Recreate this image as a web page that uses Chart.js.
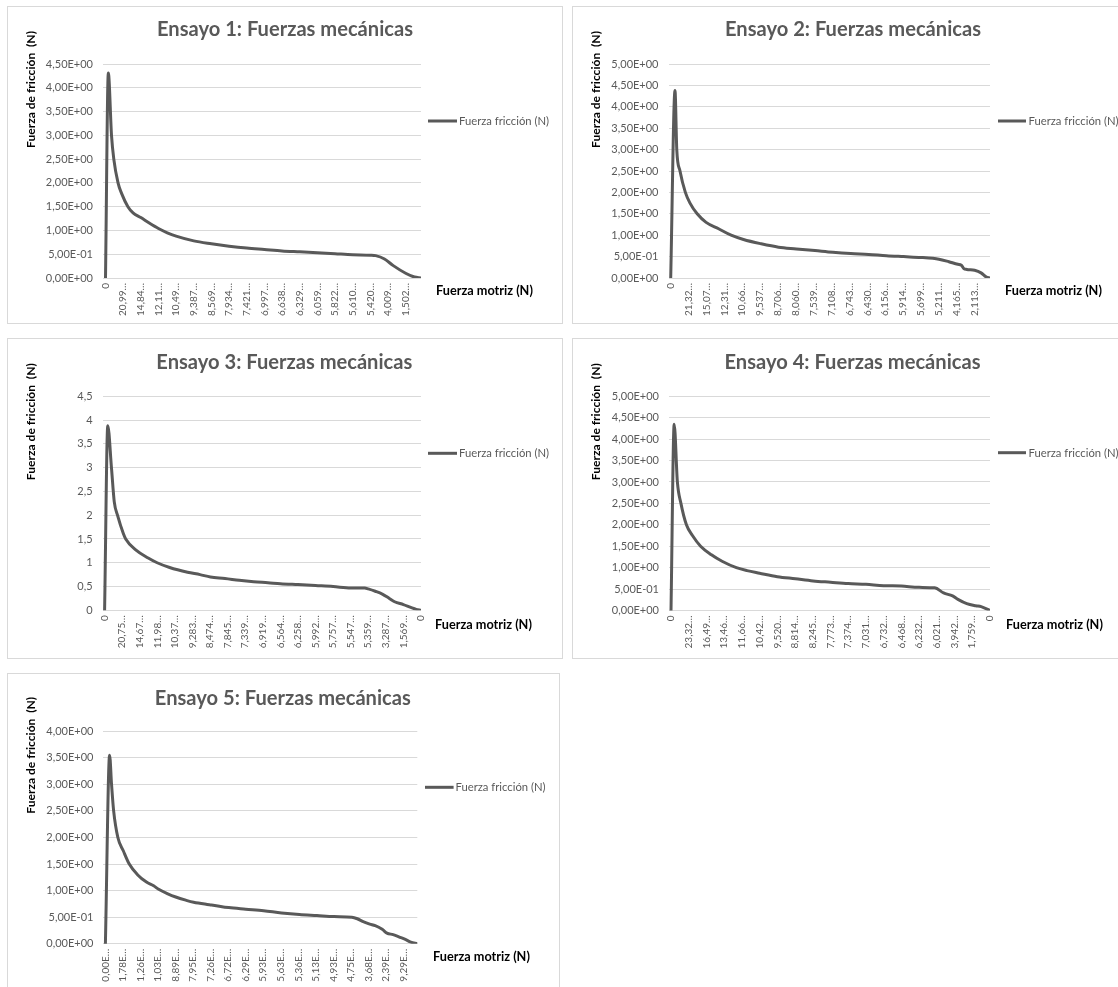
<!DOCTYPE html>
<html lang="es">
<head>
<meta charset="utf-8">
<title>Ensayos: Fuerzas mecánicas</title>
<script src="https://cdn.jsdelivr.net/npm/chart.js@4.4.1/dist/chart.umd.min.js"></script>
<style>
  html, body { margin: 0; padding: 0; background: #ffffff; overflow: hidden; }
  body { width: 1118px; height: 987px; position: relative; }
  .panel { position: absolute; box-sizing: border-box; border: 1px solid #d9d9d9; background: #ffffff; }
  .panel canvas { display: block; }
</style>
</head>
<body>
<div id="charts"></div>
<script>
// ---- Data: position along the category axis (xs) and friction force (ys) ----
const xs1 = [0, 0.16, 0.34, 0.47, 0.71, 0.91, 1.27, 1.56, 2.0, 2.5, 3.0, 3.5, 4.0, 5.0, 6.0, 7.0, 8.0, 9.0, 10.0, 11.0, 12.0, 13.0, 14.0, 15.0, 15.3, 15.8, 16.3, 17.0, 17.5, 17.87];
const ys1 = [0, 4.31, 3.0, 2.5, 2.0, 1.78, 1.5, 1.37, 1.27, 1.15, 1.04, 0.95, 0.88, 0.78, 0.72, 0.67, 0.63, 0.60, 0.57, 0.55, 0.53, 0.51, 0.49, 0.48, 0.47, 0.40, 0.26, 0.10, 0.02, 0];

const xs2 = [0, 0.24, 0.34, 0.52, 0.82, 1.08, 1.48, 1.98, 2.68, 3.38, 4.07, 5.05, 6.03, 7.03, 8.07, 9.07, 10.07, 11.07, 12.07, 13.02, 14.0, 14.66, 15.0, 15.56, 16.06, 16.26, 16.4, 16.56, 17.0, 17.36, 17.66, 17.86];
const ys2 = [0, 4.38, 3.0, 2.5, 2.0, 1.75, 1.5, 1.3, 1.15, 1.0, 0.9, 0.8, 0.72, 0.68, 0.64, 0.60, 0.57, 0.55, 0.52, 0.50, 0.48, 0.46, 0.44, 0.38, 0.32, 0.30, 0.22, 0.20, 0.18, 0.12, 0.02, 0];

const xs3 = [0, 0.18, 0.39, 0.55, 0.75, 1.06, 1.2, 1.77, 2.48, 2.99, 3.70, 4.72, 5.43, 6.02, 6.85, 7.66, 8.48, 9.29, 10.0, 11.0, 12.0, 13.0, 14.0, 14.8, 15.0, 15.4, 15.8, 16.2, 16.5, 17.0, 17.42, 17.73, 18];
const ys3 = [0, 3.88, 3.0, 2.28, 1.98, 1.62, 1.5, 1.27, 1.1, 1.0, 0.9, 0.8, 0.75, 0.7, 0.67, 0.63, 0.6, 0.58, 0.56, 0.54, 0.52, 0.50, 0.47, 0.47, 0.45, 0.40, 0.34, 0.25, 0.18, 0.12, 0.06, 0.02, 0];

const xs4 = [0, 0.18, 0.36, 0.56, 0.87, 1.21, 1.67, 2.28, 2.88, 3.69, 4.29, 5.0, 6.0, 7.02, 8.02, 9.0, 10.0, 11.0, 12.0, 13.0, 14.0, 14.88, 15.38, 15.89, 16.19, 16.69, 17.2, 17.5, 18];
const ys4 = [0, 4.35, 3.0, 2.5, 2.0, 1.75, 1.5, 1.3, 1.15, 1.0, 0.93, 0.87, 0.79, 0.74, 0.69, 0.66, 0.63, 0.61, 0.58, 0.57, 0.54, 0.53, 0.41, 0.34, 0.26, 0.16, 0.11, 0.09, 0];

const xs5 = [0, 0.24, 0.35, 0.47, 0.71, 1.02, 1.36, 1.83, 2.34, 2.75, 3.01, 3.56, 4.01, 4.58, 5.03, 5.8, 6.05, 7.03, 8.0, 9.02, 10.04, 11.06, 12.06, 13.03, 14.05, 14.36, 14.66, 15.07, 15.38, 15.78, 16.05, 16.4, 16.8, 17.1, 17.41, 17.78];
const ys5 = [0, 3.55, 3.0, 2.5, 2.0, 1.75, 1.5, 1.3, 1.16, 1.09, 1.03, 0.94, 0.88, 0.82, 0.78, 0.74, 0.73, 0.68, 0.65, 0.62, 0.58, 0.55, 0.53, 0.51, 0.50, 0.47, 0.42, 0.37, 0.34, 0.27, 0.20, 0.17, 0.12, 0.08, 0.03, 0];

// ---- Category tick labels (Fuerza motriz) ----
const xLabels1 = ['0', '20,99…', '14,84…', '12,11…', '10,49…', '9,387…', '8,569…', '7,934…', '7,421…', '6,997…', '6,638…', '6,329…', '6,059…', '5,822…', '5,610…', '5,420…', '4,009…', '1,502…'];
const xLabels2 = ['0', '21,32…', '15,07…', '12,31…', '10,66…', '9,537…', '8,706…', '8,060…', '7,539…', '7,108…', '6,743…', '6,430…', '6,156…', '5,914…', '5,699…', '5,211…', '4,165…', '2,113…'];
const xLabels3 = ['0', '20,75…', '14,67…', '11,98…', '10,37…', '9,283…', '8,474…', '7,845…', '7,339…', '6,919…', '6,564…', '6,258…', '5,992…', '5,757…', '5,547…', '5,359…', '3,287…', '1,569…', '0'];
const xLabels4 = ['0', '23,32…', '16,49…', '13,46…', '11,66…', '10,42…', '9,520…', '8,814…', '8,245…', '7,773…', '7,374…', '7,031…', '6,732…', '6,468…', '6,232…', '6,021…', '3,942…', '1,759…', '0'];
const xLabels5 = ['0,00E…', '1,78E…', '1,26E…', '1,03E…', '8,89E…', '7,95E…', '7,26E…', '6,72E…', '6,29E…', '5,93E…', '5,63E…', '5,36E…', '5,13E…', '4,93E…', '4,75E…', '3,68E…', '2,39E…', '9,29E…'];

// ---- Value-axis tick labels (Fuerza de fricción), from 0 upwards in steps of 0,5 ----
const yLabelsSci45 = ['0,00E+00', '5,00E-01', '1,00E+00', '1,50E+00', '2,00E+00', '2,50E+00', '3,00E+00', '3,50E+00', '4,00E+00', '4,50E+00'];
const yLabelsSci50 = ['0,00E+00', '5,00E-01', '1,00E+00', '1,50E+00', '2,00E+00', '2,50E+00', '3,00E+00', '3,50E+00', '4,00E+00', '4,50E+00', '5,00E+00'];
const yLabelsSci40 = ['0,00E+00', '5,00E-01', '1,00E+00', '1,50E+00', '2,00E+00', '2,50E+00', '3,00E+00', '3,50E+00', '4,00E+00'];
const yLabelsDec45 = ['0', '0,5', '1', '1,5', '2', '2,5', '3', '3,5', '4', '4,5'];

const titles = ['Ensayo 1: Fuerzas mecánicas', 'Ensayo 2: Fuerzas mecánicas', 'Ensayo 3: Fuerzas mecánicas', 'Ensayo 4: Fuerzas mecánicas', 'Ensayo 5: Fuerzas mecánicas'];
const seriesName = 'Fuerza fricción (N)';
const yAxisName = 'Fuerza de fricción  (N)';
const xAxisName = 'Fuerza motriz (N)';

// ---- Panel layout (page pixels) ----
const panels = [
  { xs: xs1, ys: ys1, xLabels: xLabels1, yLabels: yLabelsSci45, yMax: 4.5, xMax: 17.87, title: titles[0],
    box: { x: 7, y: 6, w: 556, h: 318 }, area: { left: 103, right: 421, top: 64, bottom: 278 }, inset: 2.5,
    titleX: 285, titleY: 36, yTitleX: 35, yTitleY: 89.5, legX1: 428, legX2: 457, legY: 121, legTextX: 459, xTitleX: 436, xTitleY: 295 },
  { xs: xs2, ys: ys2, xLabels: xLabels2, yLabels: yLabelsSci50, yMax: 5, xMax: 17.86, title: titles[1],
    box: { x: 572, y: 6, w: 556, h: 318 }, area: { left: 668.5, right: 990, top: 64, bottom: 278 }, inset: 2.2,
    titleX: 853, titleY: 36, yTitleX: 600, yTitleY: 89.5, legX1: 998, legX2: 1026, legY: 121, legTextX: 1028.5, xTitleX: 1005, xTitleY: 295 },
  { xs: xs3, ys: ys3, xLabels: xLabels3, yLabels: yLabelsDec45, yMax: 4.5, xMax: 18, title: titles[2],
    box: { x: 7, y: 338, w: 556, h: 321 }, area: { left: 102.6, right: 421, top: 396.3, bottom: 610.3 }, inset: 2,
    titleX: 284.3, titleY: 369, yTitleX: 35, yTitleY: 421.7, legX1: 428, legX2: 457, legY: 453.3, legTextX: 459, xTitleX: 435, xTitleY: 628.5 },
  { xs: xs4, ys: ys4, xLabels: xLabels4, yLabels: yLabelsSci50, yMax: 5, xMax: 18, title: titles[3],
    box: { x: 572, y: 338, w: 556, h: 321 }, area: { left: 669, right: 990, top: 396.3, bottom: 610.5 }, inset: 2,
    titleX: 852.5, titleY: 369, yTitleX: 600, yTitleY: 421.7, legX1: 998, legX2: 1026, legY: 452.7, legTextX: 1028.5, xTitleX: 1006, xTitleY: 628.5 },
  { xs: xs5, ys: ys5, xLabels: xLabels5, yLabels: yLabelsSci40, yMax: 4, xMax: 17.78, title: titles[4],
    box: { x: 7, y: 673, w: 553, h: 318 }, area: { left: 103.4, right: 417.3, top: 731.3, bottom: 943.7 }, inset: 2,
    titleX: 282.8, titleY: 704.5, yTitleX: 35, yTitleY: 755.3, legX1: 425, legX2: 453.6, legY: 787.3, legTextX: 455.5, xTitleX: 433, xTitleY: 961 }
];

const TEXT_GREY = '#595959';
const LINE_GREY = '#595959';
const GRID_GREY = '#d9d9d9';
const FAMILY = 'Lato, Carlito, Calibri, "Open Sans", sans-serif';

Chart.defaults.font.family = FAMILY;

// Font size that makes a string span the requested width.
function fittedSize(ctx, text, weight, width) {
  ctx.font = weight + ' 100px ' + FAMILY;
  return 100 * width / ctx.measureText(text).width;
}

// Chart title, axis titles and legend entry, placed like the spreadsheet layout.
const panelText = {
  id: 'panelText',
  afterDraw(chart, args, o) {
    const ctx = chart.ctx;
    const ox = o.ox, oy = o.oy;
    ctx.save();

    // chart title
    ctx.fillStyle = TEXT_GREY;
    ctx.textAlign = 'center';
    ctx.textBaseline = 'alphabetic';
    ctx.font = 'bold ' + fittedSize(ctx, o.title, 'bold', 256).toFixed(2) + 'px ' + FAMILY;
    ctx.fillText(o.title, o.titleX - ox, o.titleY - oy);

    // value axis title (rotated)
    ctx.fillStyle = '#000000';
    ctx.font = 'bold ' + fittedSize(ctx, yAxisName, 'bold', 117).toFixed(2) + 'px ' + FAMILY;
    ctx.save();
    ctx.translate(o.yTitleX - ox, o.yTitleY - oy);
    ctx.rotate(-Math.PI / 2);
    ctx.textAlign = 'center';
    ctx.fillText(yAxisName, 0, 0);
    ctx.restore();

    // category axis title
    ctx.textAlign = 'left';
    ctx.font = 'bold ' + fittedSize(ctx, xAxisName, 'bold', 97).toFixed(2) + 'px ' + FAMILY;
    ctx.fillText(xAxisName, o.xTitleX - ox, o.xTitleY - oy);

    // legend entry
    const ds = chart.data.datasets[0];
    ctx.strokeStyle = ds.borderColor;
    ctx.lineWidth = ds.borderWidth;
    ctx.lineCap = 'butt';
    ctx.beginPath();
    ctx.moveTo(o.legX1 - ox, o.legY - oy);
    ctx.lineTo(o.legX2 - ox, o.legY - oy);
    ctx.stroke();
    ctx.fillStyle = TEXT_GREY;
    ctx.textBaseline = 'middle';
    ctx.font = 'normal ' + fittedSize(ctx, ds.label, 'normal', 90).toFixed(2) + 'px ' + FAMILY;
    ctx.fillText(ds.label, o.legTextX - ox, o.legY - oy + 0.5);

    ctx.restore();
  }
};

const host = document.getElementById('charts');

panels.forEach(p => {
  const div = document.createElement('div');
  div.className = 'panel';
  div.style.left = p.box.x + 'px';
  div.style.top = p.box.y + 'px';
  div.style.width = p.box.w + 'px';
  div.style.height = p.box.h + 'px';
  const canvas = document.createElement('canvas');
  const cw = p.box.w - 2, ch = p.box.h - 2;
  canvas.width = cw;
  canvas.height = ch;
  canvas.style.width = cw + 'px';
  canvas.style.height = ch + 'px';
  div.appendChild(canvas);
  host.appendChild(div);

  const ox = p.box.x + 1, oy = p.box.y + 1;
  const a = p.area;
  // small gap between the plot edge and the first category
  const xMin = -p.inset * p.xMax / (a.right - a.left - p.inset);

  new Chart(canvas, {
    type: 'line',
    data: {
      datasets: [{
        label: seriesName,
        data: p.xs.map((x, i) => ({ x: x, y: p.ys[i] })),
        borderColor: LINE_GREY,
        borderWidth: 3,
        pointRadius: 0,
        pointHoverRadius: 0,
        fill: false,
        cubicInterpolationMode: 'monotone',
        borderCapStyle: 'round',
        borderJoinStyle: 'round'
      }]
    },
    options: {
      responsive: false,
      maintainAspectRatio: false,
      animation: false,
      devicePixelRatio: 1,
      events: [],
      layout: {
        padding: { left: 0, top: a.top - oy, right: cw - (a.right - ox), bottom: 0 }
      },
      scales: {
        x: {
          type: 'linear',
          min: xMin,
          max: p.xMax,
          afterFit: s => { s.height = ch - (a.bottom - oy); },
          grid: { display: false, drawTicks: false },
          border: { display: false },
          ticks: {
            stepSize: 1,
            autoSkip: false,
            maxTicksLimit: 100,
            includeBounds: false,
            minRotation: 90,
            maxRotation: 90,
            padding: 5,
            color: TEXT_GREY,
            font: { family: FAMILY, size: 10 },
            callback: v => (Number.isInteger(v) && p.xLabels[v] !== undefined) ? p.xLabels[v] : ''
          }
        },
        y: {
          type: 'linear',
          min: 0,
          max: p.yMax,
          afterFit: s => { s.width = a.left - ox; },
          grid: { color: GRID_GREY, lineWidth: 1, drawTicks: false },
          border: { display: false },
          ticks: {
            stepSize: 0.5,
            padding: 10,
            color: TEXT_GREY,
            font: { family: FAMILY, size: 11 },
            callback: v => p.yLabels[Math.round(v * 2)]
          }
        }
      },
      plugins: {
        legend: { display: false },
        title: { display: false },
        tooltip: { enabled: false },
        panelText: {
          ox: ox, oy: oy, title: p.title,
          titleX: p.titleX, titleY: p.titleY,
          yTitleX: p.yTitleX, yTitleY: p.yTitleY,
          legX1: p.legX1, legX2: p.legX2, legY: p.legY, legTextX: p.legTextX,
          xTitleX: p.xTitleX, xTitleY: p.xTitleY
        }
      }
    },
    plugins: [panelText]
  });
});
</script>
</body>
</html>
